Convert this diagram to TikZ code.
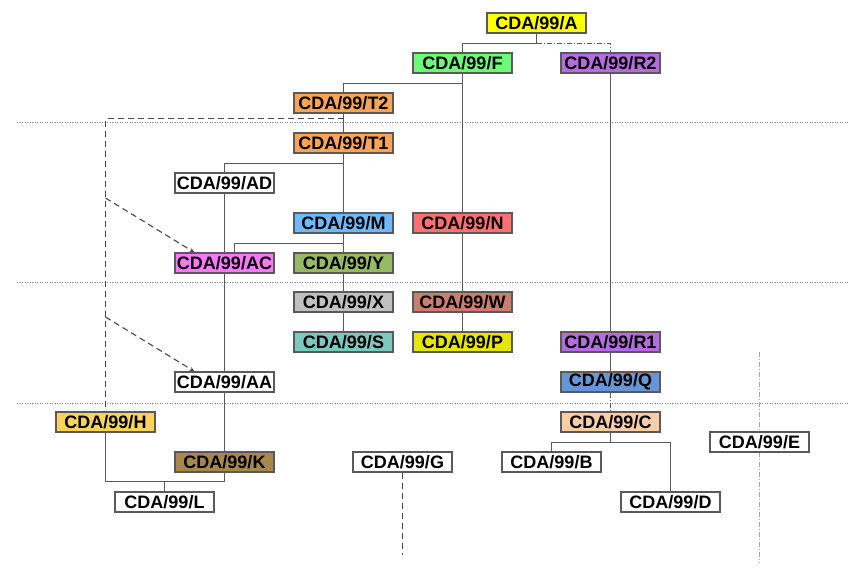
\documentclass[tikz,border=0pt]{standalone}
\usepackage{fontspec}
\setmainfont{Liberation Sans}
\usetikzlibrary{arrows.meta,backgrounds}
\definecolor{cA}{RGB}{255,255,0}
\definecolor{cF}{RGB}{110,250,120}
\definecolor{cR}{RGB}{182,108,222}
\definecolor{cT}{RGB}{250,165,85}
\definecolor{cM}{RGB}{110,185,250}
\definecolor{cN}{RGB}{255,112,112}
\definecolor{cAC}{RGB}{250,120,250}
\definecolor{cY}{RGB}{150,185,100}
\definecolor{cX}{RGB}{192,192,192}
\definecolor{cW}{RGB}{205,125,112}
\definecolor{cS}{RGB}{122,200,190}
\definecolor{cP}{RGB}{230,230,0}
\definecolor{cQ}{RGB}{102,150,215}
\definecolor{cH}{RGB}{250,210,92}
\definecolor{cC}{RGB}{250,205,165}
\definecolor{cK}{RGB}{168,135,75}
\definecolor{edge}{RGB}{90,90,90}
\tikzset{
  box/.style={draw=edge, line width=1.1pt, minimum width=99pt, minimum height=20pt, inner sep=0pt,
    font=\fontsize{18}{19}\selectfont\bfseries, fill=white},
  conn/.style={draw=edge, line width=1.3pt},
  dd/.style={draw=edge, line width=1.1pt, dash pattern=on 5pt off 2pt on 1pt off 2pt},
  ddlight/.style={draw=gray!70, line width=1.1pt, dash pattern=on 5pt off 2pt on 1pt off 2pt},
  dsh/.style={draw=edge!80!black, line width=1.1pt, dash pattern=on 6pt off 4pt},
  dsharrow/.style={dsh, -{Stealth[length=5pt,width=4pt]}},
  grid/.style={draw=gray, line width=1pt, dash pattern=on 1pt off 1.5pt}
}
\begin{document}
\begin{tikzpicture}[x=1pt,y=-1pt]
\useasboundingbox (0,0) rectangle (855,572);

% nodes
\node[box, fill=cA]  (A)  at (536.5,23)  {CDA/99/A};
\node[box, fill=cF]  (F)  at (462.5,63)  {CDA/99/F};
\node[box, fill=cR]  (R2) at (610.5,63)  {CDA/99/R2};
\node[box, fill=cT]  (T2) at (343.5,103) {CDA/99/T2};
\node[box, fill=cT]  (T1) at (343.5,143) {CDA/99/T1};
\node[box]           (AD) at (224.5,183) {CDA/99/AD};
\node[box, fill=cM]  (M)  at (343.5,223) {CDA/99/M};
\node[box, fill=cN]  (N)  at (462.5,223) {CDA/99/N};
\node[box, fill=cAC] (AC) at (224.5,263) {CDA/99/AC};
\node[box, fill=cY]  (Y)  at (343.5,263) {CDA/99/Y};
\node[box, fill=cX]  (X)  at (343.5,302) {CDA/99/X};
\node[box, fill=cW]  (W)  at (462.5,302) {CDA/99/W};
\node[box, fill=cS]  (S)  at (343.5,342) {CDA/99/S};
\node[box, fill=cP]  (P)  at (462.5,342) {CDA/99/P};
\node[box, fill=cR]  (R1) at (610.5,342) {CDA/99/R1};
\node[box]           (AA) at (224.5,382) {CDA/99/AA};
\node[box, fill=cQ]  (Q)  at (610.5,382) {CDA/99/Q};
\node[box, fill=cH]  (H)  at (105.5,422) {CDA/99/H};
\node[box, fill=cC]  (C)  at (610.5,422) {CDA/99/C};
\node[box]           (E)  at (759.5,442) {CDA/99/E};
\node[box, fill=cK]  (K)  at (224.5,462) {CDA/99/K};
\node[box]           (G)  at (402.5,462) {CDA/99/G};
\node[box]           (B)  at (551.5,462) {CDA/99/B};
\node[box]           (L)  at (164.5,502) {CDA/99/L};
\node[box]           (D)  at (670.5,502) {CDA/99/D};

% free-end coordinates
\coordinate (e1) at (759.5,352);
\coordinate (e2) at (759.5,563);
\coordinate (gend) at (402.5,555);
\coordinate (d1) at (105.5,198);
\coordinate (d2) at (105.5,317);
\coordinate (jL) at ([yshift=10pt]L.north);
\coordinate (g1a) at (17,123);  \coordinate (g1b) at (848,123);
\coordinate (g2a) at (17,283);  \coordinate (g2b) at (848,283);
\coordinate (g3a) at (17,403);  \coordinate (g3b) at (848,403);

\begin{pgfonlayer}{background}
% dotted separators
\draw[grid] (g1a) -- (g1b);
\draw[grid] (g2a) -- (g2b);
\draw[grid] (g3a) -- (g3b);

% solid tree connectors
\draw[conn] (A.south) -- ++(0,-10pt) -| (F.north);
\draw[dd] ([yshift=-10pt]A.south) -| (R2.north);
\draw[conn] (F.south) -- ++(0,-10pt) -| (T2.north);
\draw[conn] (F.south) -- (N.north);
\draw[conn] (N.south) -- (W.north);
\draw[conn] (W.south) -- (P.north);
\draw[conn] (T2.south) -- (T1.north);
\draw[conn] (T1.south) -- (M.north);
\draw[conn] ([yshift=-10pt]T1.south) -| (AD.north);
\draw[conn] (AD.south) -- (AC.north);
\draw[conn] (AC.south) -- (AA.north);
\draw[conn] (AA.south) -- (K.north);
\draw[conn] (M.south) -- (Y.north);
\draw[conn] ([yshift=-10pt]M.south) -| ([xshift=10pt]AC.north);
\draw[conn] (Y.south) -- (X.north);
\draw[conn] (X.south) -- (S.north);
\draw[conn] (R2.south) -- (R1.north);
\draw[conn] (R1.south) -- (Q.north);
\draw[dd] (Q.south) -- (C.north);
\draw[conn] ([yshift=-10pt]C.south) -| (B.north);
\draw[conn] (C.south) -- ++(0,-10pt) -| (D.north);
\draw[conn] (H.south) |- (jL) -| (K.south);
\draw[conn] (jL) -- (L.north);

% dashed links
\draw[dsh] ([yshift=-5pt]T2.south) -| (H.north);
\draw[dsharrow] (d1) -- ([xshift=-30pt]AC.north);
\draw[dsharrow] (d2) -- ([xshift=-30pt]AA.north);
\draw[dsh] (G.south) -- (gend);
\draw[ddlight] (e1) -- (e2);
\end{pgfonlayer}
\end{tikzpicture}
\end{document}
